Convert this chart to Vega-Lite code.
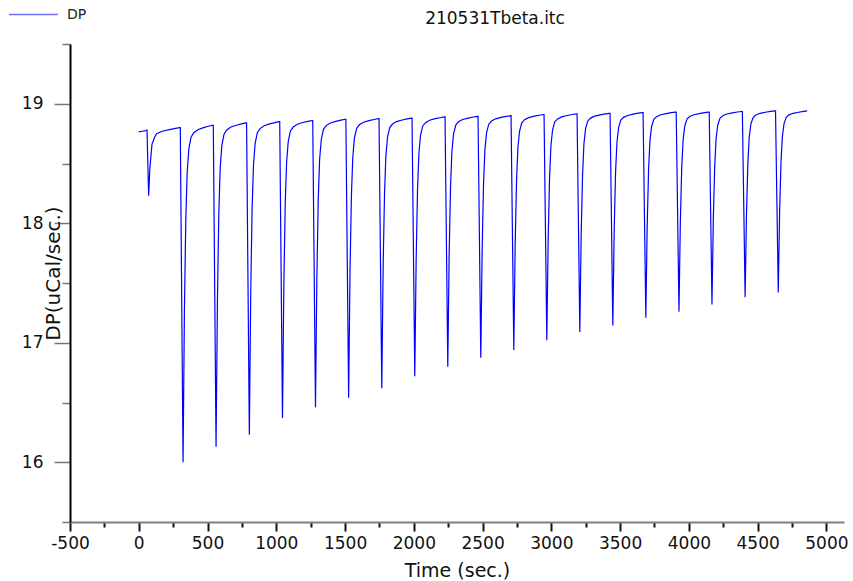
{
  "$schema": "https://vega.github.io/schema/vega-lite/v6.json",
  "autosize": "none",
  "width": 774,
  "height": 478,
  "padding": {"left": 70, "top": 44, "right": 9, "bottom": 59},
  "background": "white",
  "config": {"view": {"stroke": null}},
  "title": {"text": "210531Tbeta.itc", "font": "DejaVu Sans", "fontSize": 17, "fontWeight": "normal", "color": "#111", "anchor": "middle", "frame": "group", "dx": 38, "baseline": "alphabetic", "offset": -52},
  "data": {"values": [
    {"t":0,"dp":18.765,"s":"DP"},{"t":25,"dp":18.77,"s":"DP"},{"t":50,"dp":18.775,"s":"DP"},{"t":60,"dp":18.78,"s":"DP"},{"t":66,"dp":18.5,"s":"DP"},{"t":72,"dp":18.23,"s":"DP"},{"t":80,"dp":18.45,"s":"DP"},{"t":96,"dp":18.66,"s":"DP"},{"t":115,"dp":18.72,"s":"DP"},{"t":130,"dp":18.75,"s":"DP"},{"t":170,"dp":18.77,"s":"DP"},{"t":230,"dp":18.785,"s":"DP"},{"t":296,"dp":18.8,"s":"DP"},
    {"t":302,"dp":18.8,"s":"DP"},{"t":312,"dp":17.4,"s":"DP"},{"t":322,"dp":16.0,"s":"DP"},{"t":332,"dp":17.27,"s":"DP"},{"t":342,"dp":18.03,"s":"DP"},{"t":352,"dp":18.425,"s":"DP"},{"t":364,"dp":18.62,"s":"DP"},{"t":380,"dp":18.72,"s":"DP"},{"t":400,"dp":18.758,"s":"DP"},{"t":430,"dp":18.783,"s":"DP"},{"t":470,"dp":18.8,"s":"DP"},{"t":507,"dp":18.812,"s":"DP"},{"t":537,"dp":18.82,"s":"DP"},
    {"t":542,"dp":18.82,"s":"DP"},{"t":552,"dp":17.475,"s":"DP"},{"t":562,"dp":16.13,"s":"DP"},{"t":572,"dp":17.35,"s":"DP"},{"t":582,"dp":18.08,"s":"DP"},{"t":592,"dp":18.46,"s":"DP"},{"t":604,"dp":18.65,"s":"DP"},{"t":620,"dp":18.745,"s":"DP"},{"t":640,"dp":18.78,"s":"DP"},{"t":670,"dp":18.805,"s":"DP"},{"t":710,"dp":18.82,"s":"DP"},{"t":747,"dp":18.832,"s":"DP"},{"t":777,"dp":18.84,"s":"DP"},
    {"t":784,"dp":18.84,"s":"DP"},{"t":794,"dp":17.535,"s":"DP"},{"t":804,"dp":16.23,"s":"DP"},{"t":814,"dp":17.41,"s":"DP"},{"t":824,"dp":18.116,"s":"DP"},{"t":834,"dp":18.483,"s":"DP"},{"t":846,"dp":18.667,"s":"DP"},{"t":862,"dp":18.758,"s":"DP"},{"t":882,"dp":18.792,"s":"DP"},{"t":912,"dp":18.816,"s":"DP"},{"t":952,"dp":18.832,"s":"DP"},{"t":989,"dp":18.842,"s":"DP"},{"t":1019,"dp":18.85,"s":"DP"},
    {"t":1025,"dp":18.85,"s":"DP"},{"t":1035,"dp":17.61,"s":"DP"},{"t":1045,"dp":16.37,"s":"DP"},{"t":1055,"dp":17.49,"s":"DP"},{"t":1065,"dp":18.163,"s":"DP"},{"t":1075,"dp":18.511,"s":"DP"},{"t":1087,"dp":18.686,"s":"DP"},{"t":1103,"dp":18.773,"s":"DP"},{"t":1123,"dp":18.805,"s":"DP"},{"t":1153,"dp":18.828,"s":"DP"},{"t":1193,"dp":18.843,"s":"DP"},{"t":1230,"dp":18.853,"s":"DP"},{"t":1260,"dp":18.86,"s":"DP"},
    {"t":1265,"dp":18.86,"s":"DP"},{"t":1275,"dp":17.66,"s":"DP"},{"t":1285,"dp":16.46,"s":"DP"},{"t":1295,"dp":17.544,"s":"DP"},{"t":1305,"dp":18.195,"s":"DP"},{"t":1315,"dp":18.533,"s":"DP"},{"t":1327,"dp":18.701,"s":"DP"},{"t":1343,"dp":18.786,"s":"DP"},{"t":1363,"dp":18.817,"s":"DP"},{"t":1393,"dp":18.839,"s":"DP"},{"t":1433,"dp":18.853,"s":"DP"},{"t":1470,"dp":18.863,"s":"DP"},{"t":1500,"dp":18.87,"s":"DP"},
    {"t":1506,"dp":18.87,"s":"DP"},{"t":1516,"dp":17.705,"s":"DP"},{"t":1526,"dp":16.54,"s":"DP"},{"t":1536,"dp":17.591,"s":"DP"},{"t":1546,"dp":18.221,"s":"DP"},{"t":1556,"dp":18.548,"s":"DP"},{"t":1568,"dp":18.712,"s":"DP"},{"t":1584,"dp":18.793,"s":"DP"},{"t":1604,"dp":18.824,"s":"DP"},{"t":1634,"dp":18.845,"s":"DP"},{"t":1674,"dp":18.859,"s":"DP"},{"t":1711,"dp":18.868,"s":"DP"},{"t":1741,"dp":18.875,"s":"DP"},
    {"t":1747,"dp":18.875,"s":"DP"},{"t":1757,"dp":17.75,"s":"DP"},{"t":1767,"dp":16.62,"s":"DP"},{"t":1777,"dp":17.637,"s":"DP"},{"t":1787,"dp":18.247,"s":"DP"},{"t":1797,"dp":18.564,"s":"DP"},{"t":1809,"dp":18.722,"s":"DP"},{"t":1825,"dp":18.801,"s":"DP"},{"t":1845,"dp":18.83,"s":"DP"},{"t":1875,"dp":18.851,"s":"DP"},{"t":1915,"dp":18.864,"s":"DP"},{"t":1952,"dp":18.873,"s":"DP"},{"t":1982,"dp":18.88,"s":"DP"},
    {"t":1987,"dp":18.88,"s":"DP"},{"t":1997,"dp":17.8,"s":"DP"},{"t":2007,"dp":16.72,"s":"DP"},{"t":2017,"dp":17.696,"s":"DP"},{"t":2027,"dp":18.282,"s":"DP"},{"t":2037,"dp":18.586,"s":"DP"},{"t":2049,"dp":18.738,"s":"DP"},{"t":2065,"dp":18.814,"s":"DP"},{"t":2085,"dp":18.842,"s":"DP"},{"t":2115,"dp":18.862,"s":"DP"},{"t":2155,"dp":18.875,"s":"DP"},{"t":2192,"dp":18.883,"s":"DP"},{"t":2222,"dp":18.89,"s":"DP"},
    {"t":2227,"dp":18.89,"s":"DP"},{"t":2237,"dp":17.845,"s":"DP"},{"t":2247,"dp":16.8,"s":"DP"},{"t":2257,"dp":17.743,"s":"DP"},{"t":2267,"dp":18.308,"s":"DP"},{"t":2277,"dp":18.602,"s":"DP"},{"t":2289,"dp":18.748,"s":"DP"},{"t":2305,"dp":18.822,"s":"DP"},{"t":2325,"dp":18.849,"s":"DP"},{"t":2355,"dp":18.868,"s":"DP"},{"t":2395,"dp":18.88,"s":"DP"},{"t":2432,"dp":18.889,"s":"DP"},{"t":2462,"dp":18.895,"s":"DP"},
    {"t":2467,"dp":18.895,"s":"DP"},{"t":2477,"dp":17.885,"s":"DP"},{"t":2487,"dp":16.875,"s":"DP"},{"t":2497,"dp":17.786,"s":"DP"},{"t":2507,"dp":18.333,"s":"DP"},{"t":2517,"dp":18.616,"s":"DP"},{"t":2529,"dp":18.758,"s":"DP"},{"t":2545,"dp":18.829,"s":"DP"},{"t":2565,"dp":18.855,"s":"DP"},{"t":2595,"dp":18.874,"s":"DP"},{"t":2635,"dp":18.886,"s":"DP"},{"t":2672,"dp":18.894,"s":"DP"},{"t":2702,"dp":18.9,"s":"DP"},
    {"t":2707,"dp":18.9,"s":"DP"},{"t":2717,"dp":17.92,"s":"DP"},{"t":2727,"dp":16.94,"s":"DP"},{"t":2737,"dp":17.826,"s":"DP"},{"t":2747,"dp":18.358,"s":"DP"},{"t":2757,"dp":18.634,"s":"DP"},{"t":2769,"dp":18.772,"s":"DP"},{"t":2785,"dp":18.841,"s":"DP"},{"t":2805,"dp":18.867,"s":"DP"},{"t":2835,"dp":18.884,"s":"DP"},{"t":2875,"dp":18.896,"s":"DP"},{"t":2912,"dp":18.904,"s":"DP"},{"t":2942,"dp":18.91,"s":"DP"},
    {"t":2947,"dp":18.91,"s":"DP"},{"t":2957,"dp":17.965,"s":"DP"},{"t":2967,"dp":17.02,"s":"DP"},{"t":2977,"dp":17.873,"s":"DP"},{"t":2987,"dp":18.384,"s":"DP"},{"t":2997,"dp":18.65,"s":"DP"},{"t":3009,"dp":18.782,"s":"DP"},{"t":3025,"dp":18.849,"s":"DP"},{"t":3045,"dp":18.873,"s":"DP"},{"t":3075,"dp":18.89,"s":"DP"},{"t":3115,"dp":18.902,"s":"DP"},{"t":3152,"dp":18.91,"s":"DP"},{"t":3182,"dp":18.915,"s":"DP"},
    {"t":3187,"dp":18.915,"s":"DP"},{"t":3197,"dp":18.0,"s":"DP"},{"t":3207,"dp":17.09,"s":"DP"},{"t":3217,"dp":17.913,"s":"DP"},{"t":3227,"dp":18.408,"s":"DP"},{"t":3237,"dp":18.664,"s":"DP"},{"t":3249,"dp":18.792,"s":"DP"},{"t":3265,"dp":18.856,"s":"DP"},{"t":3285,"dp":18.88,"s":"DP"},{"t":3315,"dp":18.896,"s":"DP"},{"t":3355,"dp":18.907,"s":"DP"},{"t":3392,"dp":18.915,"s":"DP"},{"t":3422,"dp":18.92,"s":"DP"},
    {"t":3427,"dp":18.92,"s":"DP"},{"t":3437,"dp":18.03,"s":"DP"},{"t":3447,"dp":17.145,"s":"DP"},{"t":3457,"dp":17.946,"s":"DP"},{"t":3467,"dp":18.427,"s":"DP"},{"t":3477,"dp":18.676,"s":"DP"},{"t":3489,"dp":18.8,"s":"DP"},{"t":3505,"dp":18.863,"s":"DP"},{"t":3525,"dp":18.886,"s":"DP"},{"t":3555,"dp":18.902,"s":"DP"},{"t":3595,"dp":18.913,"s":"DP"},{"t":3632,"dp":18.921,"s":"DP"},{"t":3662,"dp":18.925,"s":"DP"},
    {"t":3667,"dp":18.925,"s":"DP"},{"t":3677,"dp":18.07,"s":"DP"},{"t":3687,"dp":17.21,"s":"DP"},{"t":3697,"dp":17.984,"s":"DP"},{"t":3707,"dp":18.448,"s":"DP"},{"t":3717,"dp":18.689,"s":"DP"},{"t":3729,"dp":18.81,"s":"DP"},{"t":3745,"dp":18.87,"s":"DP"},{"t":3765,"dp":18.892,"s":"DP"},{"t":3795,"dp":18.908,"s":"DP"},{"t":3835,"dp":18.918,"s":"DP"},{"t":3872,"dp":18.926,"s":"DP"},{"t":3902,"dp":18.93,"s":"DP"},
    {"t":3908,"dp":18.93,"s":"DP"},{"t":3918,"dp":18.095,"s":"DP"},{"t":3928,"dp":17.26,"s":"DP"},{"t":3938,"dp":18.011,"s":"DP"},{"t":3948,"dp":18.462,"s":"DP"},{"t":3958,"dp":18.696,"s":"DP"},{"t":3970,"dp":18.813,"s":"DP"},{"t":3986,"dp":18.872,"s":"DP"},{"t":4006,"dp":18.893,"s":"DP"},{"t":4036,"dp":18.908,"s":"DP"},{"t":4076,"dp":18.918,"s":"DP"},{"t":4113,"dp":18.926,"s":"DP"},{"t":4143,"dp":18.93,"s":"DP"},
    {"t":4148,"dp":18.93,"s":"DP"},{"t":4158,"dp":18.125,"s":"DP"},{"t":4168,"dp":17.32,"s":"DP"},{"t":4178,"dp":18.047,"s":"DP"},{"t":4188,"dp":18.483,"s":"DP"},{"t":4198,"dp":18.709,"s":"DP"},{"t":4210,"dp":18.822,"s":"DP"},{"t":4226,"dp":18.878,"s":"DP"},{"t":4246,"dp":18.899,"s":"DP"},{"t":4276,"dp":18.914,"s":"DP"},{"t":4316,"dp":18.924,"s":"DP"},{"t":4353,"dp":18.931,"s":"DP"},{"t":4383,"dp":18.935,"s":"DP"},
    {"t":4389,"dp":18.935,"s":"DP"},{"t":4399,"dp":18.157,"s":"DP"},{"t":4409,"dp":17.38,"s":"DP"},{"t":4419,"dp":18.082,"s":"DP"},{"t":4429,"dp":18.503,"s":"DP"},{"t":4439,"dp":18.722,"s":"DP"},{"t":4451,"dp":18.831,"s":"DP"},{"t":4467,"dp":18.885,"s":"DP"},{"t":4487,"dp":18.906,"s":"DP"},{"t":4517,"dp":18.92,"s":"DP"},{"t":4557,"dp":18.929,"s":"DP"},{"t":4594,"dp":18.936,"s":"DP"},{"t":4624,"dp":18.94,"s":"DP"},
    {"t":4630,"dp":18.94,"s":"DP"},{"t":4640,"dp":18.18,"s":"DP"},{"t":4650,"dp":17.42,"s":"DP"},{"t":4660,"dp":18.104,"s":"DP"},{"t":4670,"dp":18.514,"s":"DP"},{"t":4680,"dp":18.727,"s":"DP"},{"t":4692,"dp":18.834,"s":"DP"},{"t":4708,"dp":18.887,"s":"DP"},{"t":4728,"dp":18.907,"s":"DP"},{"t":4758,"dp":18.92,"s":"DP"},{"t":4798,"dp":18.929,"s":"DP"},{"t":4835,"dp":18.936,"s":"DP"},{"t":4860,"dp":18.94,"s":"DP"}
  ]},
  "mark": {"type": "line", "strokeWidth": 1.2, "interpolate": "linear"},
  "encoding": {
    "x": {
      "field": "t", "type": "quantitative",
      "scale": {"domain": [-500, 5128], "nice": false, "zero": false},
      "axis": {
        "title": "Time (sec.)",
        "values": [-500,-250,0,250,500,750,1000,1250,1500,1750,2000,2250,2500,2750,3000,3250,3500,3750,4000,4250,4500,4750,5000],
        "labelExpr": "datum.value % 500 === 0 ? '' + datum.value : ''",
        "labelFont": "DejaVu Sans", "labelFontSize": 17, "labelColor": "#111",
        "labelPadding": 4, "labelOverlap": false, "labelFlush": false, "labelBound": false,
        "tickSize": {"condition": {"test": "datum.value % 500 === 0", "value": 9}, "value": 5},
        "tickColor": "#111", "tickWidth": 2,
        "domainColor": "#808080", "domainWidth": 2,
        "grid": false,
        "titleFont": "DejaVu Sans", "titleFontSize": 19, "titleFontWeight": "normal", "titleColor": "#111",
        "titleBaseline": "top", "titleY": 39, "titleX": 387
      }
    },
    "y": {
      "field": "dp", "type": "quantitative",
      "scale": {"domain": [15.5, 19.5], "nice": false, "zero": false},
      "axis": {
        "title": "DP(uCal/sec.)",
        "values": [15.5,16,16.5,17,17.5,18,18.5,19,19.5],
        "labelExpr": "datum.value % 1 === 0 ? '' + datum.value : ''",
        "labelFont": "DejaVu Sans", "labelFontSize": 17, "labelColor": "#111",
        "labelPadding": 11, "labelOverlap": false, "labelFlush": false, "labelBound": false,
        "tickSize": {"condition": {"test": "datum.value % 1 === 0", "value": 16}, "value": 8},
        "tickColor": "#777", "tickWidth": 1.5,
        "domainColor": "#000", "domainWidth": 2,
        "grid": false,
        "titleFont": "DejaVu Sans", "titleFontSize": 20, "titleFontWeight": "normal", "titleColor": "#111",
        "titleAngle": -90, "titleAlign": "center", "titleBaseline": "alphabetic",
        "titleX": -11, "titleY": 229
      }
    },
    "stroke": {
      "field": "s", "type": "nominal",
      "scale": {"range": ["#0000ff"]},
      "legend": {
        "orient": "none", "legendX": -62, "legendY": -55, "title": null, "padding": 0,
        "symbolType": "stroke", "symbolSize": 2400, "symbolStrokeWidth": 1.5, "symbolOpacity": 0.55,
        "labelFont": "DejaVu Sans", "labelFontSize": 14, "labelColor": "#222", "labelOffset": 8
      }
    }
  }
}
